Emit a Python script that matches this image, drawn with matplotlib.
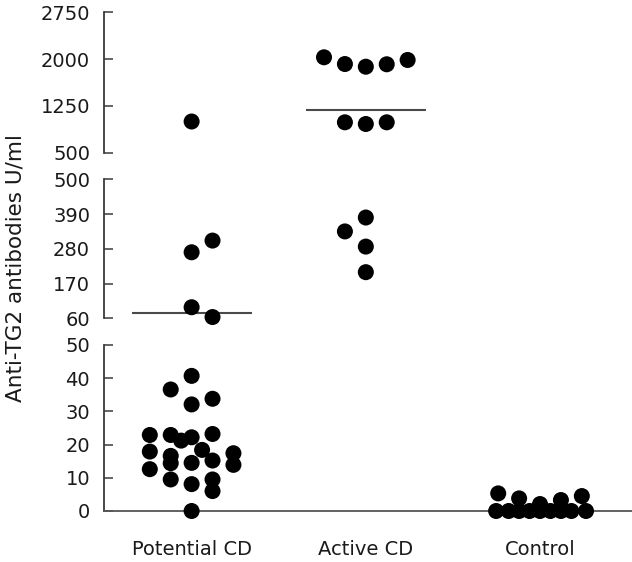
import matplotlib
matplotlib.use("Agg")
import matplotlib.pyplot as plt
import numpy as np

plt.rcParams['font.family'] = ['DejaVu Sans']

categories = ["Potential CD", "Active CD", "Control"]

# values (U/ml) and horizontal column slot within each group
potential_vals = [1000, 269, 306, 95, 64,
                  40.7, 36.6, 32.1, 33.8,
                  22.9, 17.9, 12.6,
                  22.9, 16.6, 14.4, 9.5,
                  21.2,
                  22.2, 14.5, 8.1, 0,
                  18.4,
                  23.2, 15.2, 9.5, 6.0,
                  17.4, 13.9]
potential_slot = [0, 0, 1, 0, 1,
                  0, -1, 0, 1,
                  -2, -2, -2,
                  -1, -1, -1, -1,
                  -0.5,
                  0, 0, 0, 0,
                  0.5,
                  1, 1, 1, 1,
                  2, 2]

active_vals = [2029, 1921, 1878, 1917, 1986, 987, 960, 987,
               379, 335, 287, 206]
active_slot = [-2, -1, 0, 1, 2, -1, 0, 1,
               0, -1, 0, 0]

control_vals = [5.3, 3.8, 2.1, 3.3, 4.5,
                0, 0, 0, 0, 0, 0, 0, 0, 0]
control_slot = [-2, -1, 0, 1, 2,
                -2.1, -1.5, -1, -0.5, 0, 0.5, 1, 1.5, 2.2]

median_vals = [78, 1179]   # Potential CD, Active CD

# broken axis segments: (ymin, ymax, ticks)
seg_top = (500, 2750, [500, 1250, 2000, 2750])
seg_mid = (60, 500, [60, 170, 280, 390, 500])
seg_bot = (0, 50, [0, 10, 20, 30, 40, 50])

W, H = 632, 562
fig = plt.figure(figsize=(W / 100, H / 100), dpi=100)

def fig_rect(y_top_px, y_bot_px, x_left_px=104, x_right_px=632):
    return [x_left_px / W, 1 - y_bot_px / H,
            (x_right_px - x_left_px) / W, (y_bot_px - y_top_px) / H]

ax_top = fig.add_axes(fig_rect(12.3, 152.7))
ax_mid = fig.add_axes(fig_rect(179.3, 318.3))
ax_bot = fig.add_axes(fig_rect(345, 511))
axes = [(ax_top, seg_top), (ax_mid, seg_mid), (ax_bot, seg_bot)]

step = 0.12
xlim = (0.497, 3.528)
axis_col = "#3a3a3a"

groups = [(1, potential_vals, potential_slot),
          (2, active_vals, active_slot),
          (3, control_vals, control_slot)]

for ax, (lo, hi, ticks) in axes:
    ax.set_xlim(*xlim)
    ax.set_ylim(lo, hi)
    ax.set_yticks(ticks)
    ax.set_yticklabels([str(t) for t in ticks])
    for s in ["top", "right", "bottom"]:
        ax.spines[s].set_visible(False)
    ax.spines["left"].set_color(axis_col)
    ax.spines["left"].set_linewidth(1.3)
    ax.tick_params(axis="y", direction="in", length=6.5, width=1.1,
                   color=axis_col, pad=10, labelsize=14, labelcolor="#1a1a1a")
    ax.set_xticks([])
    ax.patch.set_alpha(0)
    for cx, vals, slots in groups:
        v = np.array(vals, dtype=float)
        s = np.array(slots, dtype=float)
        if ax is ax_top:
            m = (v > 500)
        elif ax is ax_mid:
            m = (v > 50) & (v <= 500)
        else:
            m = (v <= 50)
        if m.sum() == 0:
            continue
        ax.scatter(cx + s[m] * step, v[m], s=133, color="black",
                   edgecolors="none", clip_on=False, zorder=5)

# median lines
ax_mid.plot([1 - 0.345, 1 + 0.345], [median_vals[0]] * 2, color="#4a4a4a",
            lw=1.5, zorder=3, solid_capstyle="butt")
ax_top.plot([2 - 0.345, 2 + 0.345], [median_vals[1]] * 2, color="#4a4a4a",
            lw=1.5, zorder=3, solid_capstyle="butt")

# bottom axis
ax_bot.spines["bottom"].set_visible(True)
ax_bot.spines["bottom"].set_color("#555555")
ax_bot.spines["bottom"].set_linewidth(1.3)
ax_bot.set_xticks([1, 2, 3])
ax_bot.set_xticklabels(categories)
ax_bot.tick_params(axis="x", length=0, pad=21, labelsize=14, labelcolor="#1a1a1a")

fig.text(16 / W, 1 - 268.5 / H, "Anti-TG2 antibodies U/ml", rotation=90,
         ha="center", va="center", fontsize=15.5, color="#1a1a1a")

fig.savefig("out.png", dpi=100)
